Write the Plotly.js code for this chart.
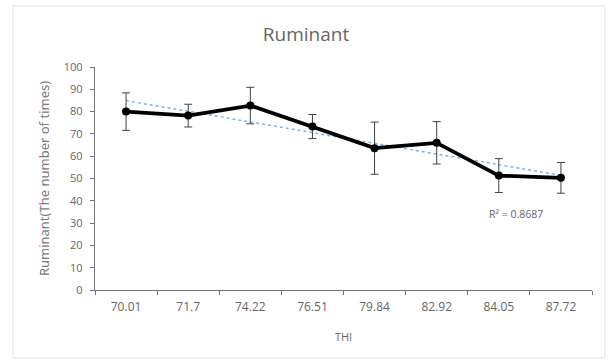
<!DOCTYPE html>
<html>
<head>
<meta charset="utf-8">
<script src="https://cdn.plot.ly/plotly-3.0.1.min.js"></script>
<style>
  html, body { margin: 0; padding: 0; background: #fff; }
  #chart { width: 612px; height: 360px; }
</style>
</head>
<body>
<div id="chart"></div>
<script>
// THI categories and mean ruminating counts with their standard deviations
const thiLabels = ["70.01", "71.7", "74.22", "76.51", "79.84", "82.92", "84.05", "87.72"];
const ruminant = [80, 78.2, 82.7, 73.3, 63.6, 66, 51.3, 50.3];
const ruminantErr = [8.4, 5.1, 8.2, 5.4, 11.7, 9.5, 7.6, 6.9];
const rSquaredText = "R² = 0.8687";

// Least-squares linear trend over category index (1..n)
const idx = ruminant.map((_, i) => i + 1);
const n = idx.length;
const mx = idx.reduce((a, b) => a + b, 0) / n;
const my = ruminant.reduce((a, b) => a + b, 0) / n;
let sxy = 0, sxx = 0;
idx.forEach((x, i) => { sxy += (x - mx) * (ruminant[i] - my); sxx += (x - mx) * (x - mx); });
const slope = sxy / sxx;
const intercept = my - slope * mx;
const trend = idx.map(x => intercept + slope * x);

const gray = "#666666";

const traces = [
  {
    x: thiLabels, y: trend, type: "scatter", mode: "lines",
    line: { color: "#7fb2dc", width: 1.5, dash: "dot" },
    hoverinfo: "skip"
  },
  {
    x: thiLabels, y: ruminant, type: "scatter", mode: "lines+markers",
    line: { color: "#000000", width: 3.8 },
    marker: { color: "#000000", size: 8 },
    error_y: { type: "data", array: ruminantErr, visible: true, color: "#404040", thickness: 1, width: 4 }
  }
];

const layout = {
  width: 612, height: 360,
  margin: { l: 95, r: 20, t: 67, b: 70 },
  paper_bgcolor: "#ffffff", plot_bgcolor: "#ffffff",
  showlegend: false,
  font: { family: "Open Sans, Arial, sans-serif", color: gray, size: 11 },
  title: {
    text: "Ruminant", x: 0.5, xanchor: "center", y: 0.905, yanchor: "middle",
    font: { size: 19, color: gray }
  },
  xaxis: {
    type: "category",
    range: [-0.5, thiLabels.length - 0.5],
    showline: true, linecolor: "#767676", linewidth: 1.3,
    showgrid: false, zeroline: false,
    ticks: "outside", tickson: "boundaries", ticklen: 4, tickcolor: "#767676",
    tickangle: 0, ticklabelstandoff: 5,
    tickfont: { size: 12, color: gray },
    title: { text: "THI", font: { size: 11, color: gray }, standoff: 19 }
  },
  yaxis: {
    range: [0, 100], dtick: 10,
    showline: true, linecolor: "#767676", linewidth: 1.3,
    showgrid: false, zeroline: false,
    ticks: "outside", ticklen: 4, tickcolor: "#767676",
    ticklabelstandoff: 5,
    tickfont: { size: 11, color: gray },
    title: { text: "Ruminant(The number of times)", font: { family: "Noto Sans, sans-serif", size: 13, color: "#7a7a7a" }, standoff: 11 }
  },
  annotations: [
    {
      x: 6, y: 34, xref: "x", yref: "y",
      xshift: 17,
      text: rSquaredText, showarrow: false,
      font: { size: 10.5, color: gray }
    }
  ],
  shapes: [
    {
      type: "rect", xref: "paper", yref: "paper",
      x0: -0.165, x1: 1.026, y0: -0.305, y1: 1.274,
      line: { color: "#e3e3e3", width: 1 }
    }
  ]
};

Plotly.newPlot("chart", traces, layout, { staticPlot: true, displayModeBar: false });
</script>
</body>
</html>
